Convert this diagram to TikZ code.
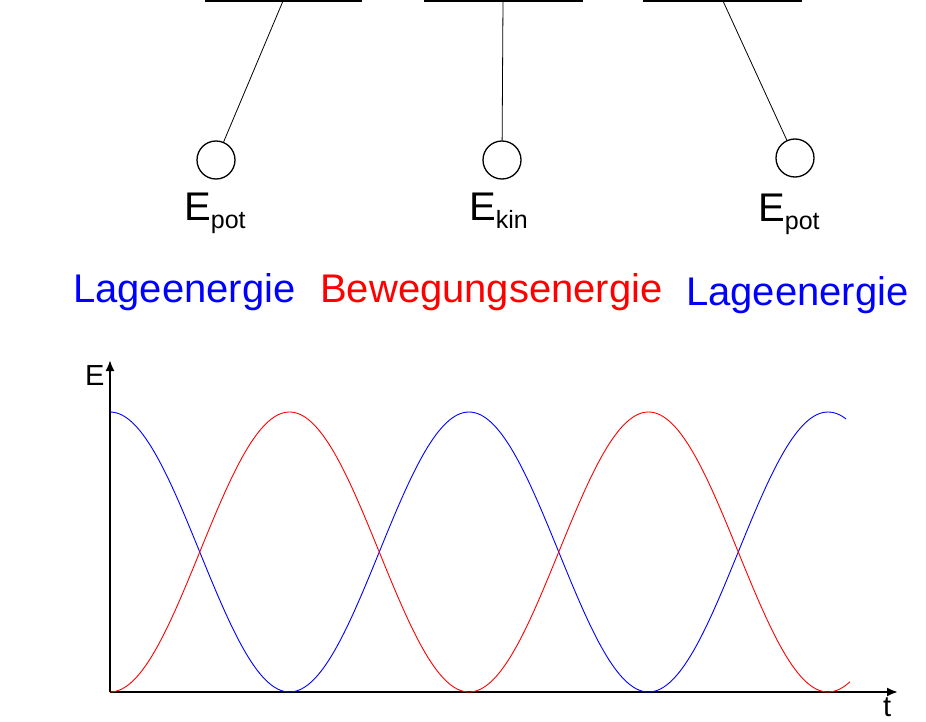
\documentclass[tikz,border=0pt]{standalone}
\usepackage{fontspec}
\setmainfont{Liberation Sans}
\usetikzlibrary{arrows.meta}
\tikzset{
  bob/.style={circle,draw,line width=1.3pt,minimum size=38pt,inner sep=0pt},
  rope/.style={line width=0.8pt},
  bar/.style={line width=1.5pt},
  big/.style={font=\fontsize{40}{44}\selectfont,inner sep=0pt},
  axislabel/.style={font=\fontsize{29}{32}\selectfont,inner sep=0pt},
  axis/.style={line width=2pt,-{Latex[length=11pt,width=9pt]}},
}
\newcommand{\Esub}[1]{E\raisebox{-0.2em}{\fontsize{25}{28}\selectfont #1}}
\begin{document}
\begin{tikzpicture}[x=1pt,y=-1pt]
\useasboundingbox (0,0) rectangle (926,722);
% bars
\coordinate (b1l) at (205,1); \coordinate (b1r) at (362,1);
\coordinate (b2l) at (424,1); \coordinate (b2r) at (583,1);
\coordinate (b3l) at (643,1); \coordinate (b3r) at (802,1);
\draw[bar] (b1l) -- (b1r);
\draw[bar] (b2l) -- (b2r);
\draw[bar] (b3l) -- (b3r);
% pendulums
\coordinate (s1) at (283,1);
\coordinate (s2) at (503,1);
\coordinate (s3) at (723,1);
\node[bob] (m1) at (216,160) {};
\node[bob] (m2) at (502,160) {};
\node[bob] (m3) at (795,158) {};
\draw[rope] (s1) -- (m1);
\draw[rope] (s2) -- (m2);
\draw[rope] (s3) -- (m3);
% energy labels
\node[big,anchor=base west] (e1) at (184,221) {\Esub{pot}};
\node[big,anchor=base west] (e2) at (469,221) {\Esub{kin}};
\node[big,anchor=base west] (e3) at (758,222) {\Esub{pot}};
\node[big,anchor=base west,text=blue] (l1) at (73,302) {Lageenergie};
\node[big,anchor=base west,text=red] (l2) at (320,302) {Bewegungsenergie};
\node[big,anchor=base west,text=blue] (l3) at (686,305) {Lageenergie};
% axes
\coordinate (o) at (110,692);
\coordinate (ytop) at (110,360);
\coordinate (xend) at (898,692);
\draw[axis] (o) -- (ytop);
\draw[axis] (o) -- (xend);
\node[axislabel,anchor=base west] (ey) at (85,385) {E};
\node[axislabel,anchor=base west] (tx) at (883,716) {t};
% curves
\draw[blue,line width=0.9pt] plot[domain=0:736,samples=300,smooth] ({110+\x},{692-140*(1+cos(1.00279*\x))});
\draw[red,line width=0.9pt] plot[domain=0:740,samples=300,smooth] ({110+\x},{692-140*(1-cos(1.00279*\x))});
\end{tikzpicture}
\end{document}
